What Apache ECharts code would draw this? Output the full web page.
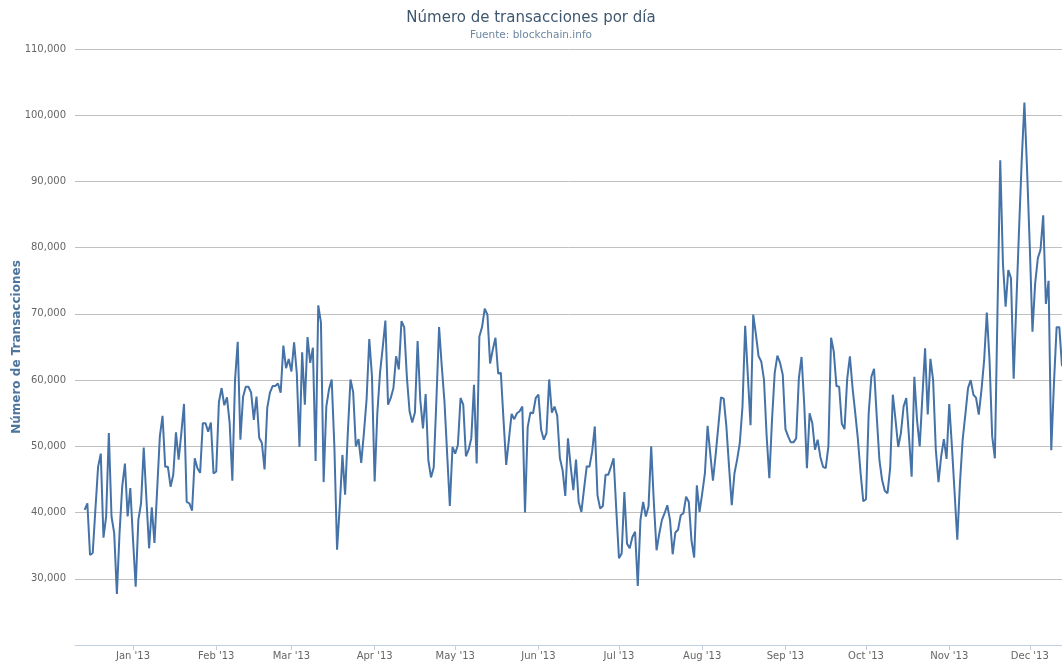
<!DOCTYPE html>
<html>
<head>
<meta charset="utf-8">
<script src="https://cdn.jsdelivr.net/npm/echarts@6/dist/echarts.min.js"></script>
<style>
html,body{margin:0;padding:0;background:#fff;}
#chart{width:1062px;height:663px;}
</style>
</head>
<body>
<div id="chart"></div>
<script>
// First day of the series (UTC) and one value per consecutive day
const startDate = [2012, 11, 14];
const transactions = [
  40400, 41400, 33600, 33900, 40500, 46900, 48900, 36200, 39400, 52000,
  39400, 36900, 27700, 37000, 44000, 47400, 39400, 43700, 36000, 28800,
  38900, 41400, 49800, 42000, 34600, 40800, 35400, 43500, 51500, 54600,
  46900, 46900, 43900, 45700, 52100, 48000, 52000, 56400, 41600, 41400,
  40300, 48200, 46700, 46000, 53500, 53500, 52200, 53600, 45900, 46200,
  56700, 58800, 56200, 57400, 53500, 44800, 60000, 65800, 51000, 57500,
  59000, 59000, 58100, 54000, 57500, 51300, 50500, 46500, 55800, 58100,
  59100, 59100, 59500, 58100, 65200, 61800, 63200, 61300, 65700, 61100,
  49900, 64200, 56300, 66500, 62600, 64900, 47800, 71300, 68700, 44600,
  56000, 58600, 60100, 50000, 34400, 40900, 48700, 42700, 52000, 60100,
  58200, 50000, 51100, 47500, 52000, 57100, 66200, 60600, 44700, 55000,
  61100, 64900, 69000, 56300, 57300, 58800, 63600, 61600, 68900, 68000,
  60500, 55300, 53600, 55100, 65900, 57000, 52700, 57900, 47900, 45300,
  46800, 57000, 68000, 62100, 56800, 48900, 41000, 49900, 48900, 50200,
  57300, 56300, 48500, 49500, 51200, 59300, 47400, 66600, 68000, 70800,
  69900, 62500, 64600, 66400, 61000, 61100, 54000, 47200, 51000, 54900,
  54100, 55000, 55300, 56000, 40000, 52900, 55100, 55000, 57300, 57800,
  52500, 51000, 52000, 60100, 55100, 56000, 54600, 48200, 46400, 42500,
  51200, 47000, 43400, 48000, 41600, 40100, 43600, 47000, 46900, 49200,
  53000, 42600, 40600, 41000, 45700, 45700, 46900, 48200, 40400, 33100,
  33800, 43100, 35300, 34600, 36300, 37100, 28900, 38900, 41600, 39400,
  40900, 50000, 41400, 34300, 36800, 38900, 39900, 41100, 38900, 33700,
  37000, 37400, 39600, 39900, 42400, 41600, 35800, 33200, 44100, 40100,
  42900, 45900, 53100, 48900, 44800, 48700, 53000, 57400, 57200, 53000,
  46900, 41100, 45900, 48000, 50500, 56000, 68200, 60600, 53200, 69900,
  66900, 63600, 62800, 60100, 51500, 45200, 54000, 61100, 63700, 62600,
  60800, 52600, 51500, 50600, 50600, 51200, 60300, 63500, 56300, 46700,
  55000, 53500, 49500, 51000, 48400, 46900, 46700, 50000, 66400, 64300,
  59100, 59000, 53400, 52600, 60200, 63600, 58800, 55000, 51000, 45900,
  41700, 42000, 55000, 60500, 61700, 54500, 47900, 44900, 43300, 42900,
  46700, 57800, 54000, 49900, 52000, 56000, 57300, 51500, 45400, 60500,
  54000, 50000, 57500, 64800, 54800, 63200, 60000, 49500, 44600, 48500,
  51100, 48100, 56400, 50000, 43000, 35900, 44500, 51000, 54800, 58800,
  60000, 57800, 57300, 54800, 58500, 63000, 70200, 63100, 51500, 48200,
  71000, 93200, 77600, 71100, 76600, 75400, 60200, 71600, 82700, 93200,
  101900, 91700, 80200, 67300, 74600, 78400, 79700, 84900, 71500, 75000,
  49400, 59500, 68000, 68000, 62100
];
const monthLabels = ['Jan','Feb','Mar','Apr','May','Jun','Jul','Aug','Sep','Oct','Nov','Dec'];
const yTicks = { min: 20000, max: 110000, step: 10000 };
const titleText = 'Número de transacciones por día';
const subtitleText = 'Fuente: blockchain.info';
const yAxisTitle = 'Número de Transacciones';

const DAY = 86400000;
const t0 = Date.UTC(startDate[0], startDate[1], startDate[2]);
const seriesData = transactions.map((v, i) => [t0 + i * DAY, v]);
const tLast = t0 + (transactions.length - 1) * DAY;

const FONT = 'DejaVu Sans, Verdana, sans-serif';
const chart = echarts.init(document.getElementById('chart'), null, { renderer: 'canvas' });
chart.setOption({
  useUTC: true,
  animation: false,
  backgroundColor: '#ffffff',
  title: [
    { text: titleText, left: 'center', top: 6,
      textStyle: { fontFamily: FONT, fontSize: 15, fontWeight: 'normal', color: '#3E576F' } },
    { text: subtitleText, left: 'center', top: 25,
      textStyle: { fontFamily: FONT, fontSize: 10.5, fontWeight: 'normal', color: '#6D869F' } }
  ],
  grid: { left: 75, right: 0, top: 49, bottom: 18, containLabel: false, outerBoundsMode: 'none' },
  xAxis: {
    type: 'time',
    min: t0 - 3.6 * DAY,
    max: tLast,
    splitNumber: 12,
    axisLine: { show: true, lineStyle: { color: '#C0D0E0', width: 1 } },
    axisTick: { show: true, length: 5, lineStyle: { color: '#C0D0E0' } },
    splitLine: { show: false },
    axisLabel: {
      fontFamily: FONT, fontSize: 10, color: '#666666', margin: 6,
      hideOverlap: false,
      formatter: function (value) {
        const d = new Date(value);
        return monthLabels[d.getUTCMonth()] + " '" + String(d.getUTCFullYear()).slice(2);
      }
    }
  },
  yAxis: {
    type: 'value',
    min: yTicks.min, max: yTicks.max, interval: yTicks.step,
    name: yAxisTitle,
    nameLocation: 'middle',
    nameGap: 52,
    nameMoveOverlap: false,
    nameTextStyle: { fontFamily: FONT, fontSize: 12, fontWeight: 'bold', color: '#4D759E' },
    axisLine: { show: false },
    axisTick: { show: false },
    splitLine: { show: true, lineStyle: { color: '#C0C0C0', width: 1 } },
    axisLabel: {
      fontFamily: FONT, fontSize: 10, color: '#666666', margin: 9,
      showMinLabel: false,
      formatter: v => v.toLocaleString('en-US')
    }
  },
  series: [{
    type: 'line',
    data: seriesData,
    showSymbol: false,
    symbol: 'none',
    lineStyle: { color: '#4572A7', width: 2 },
    itemStyle: { color: '#4572A7' }
  }]
});
</script>
</body>
</html>
